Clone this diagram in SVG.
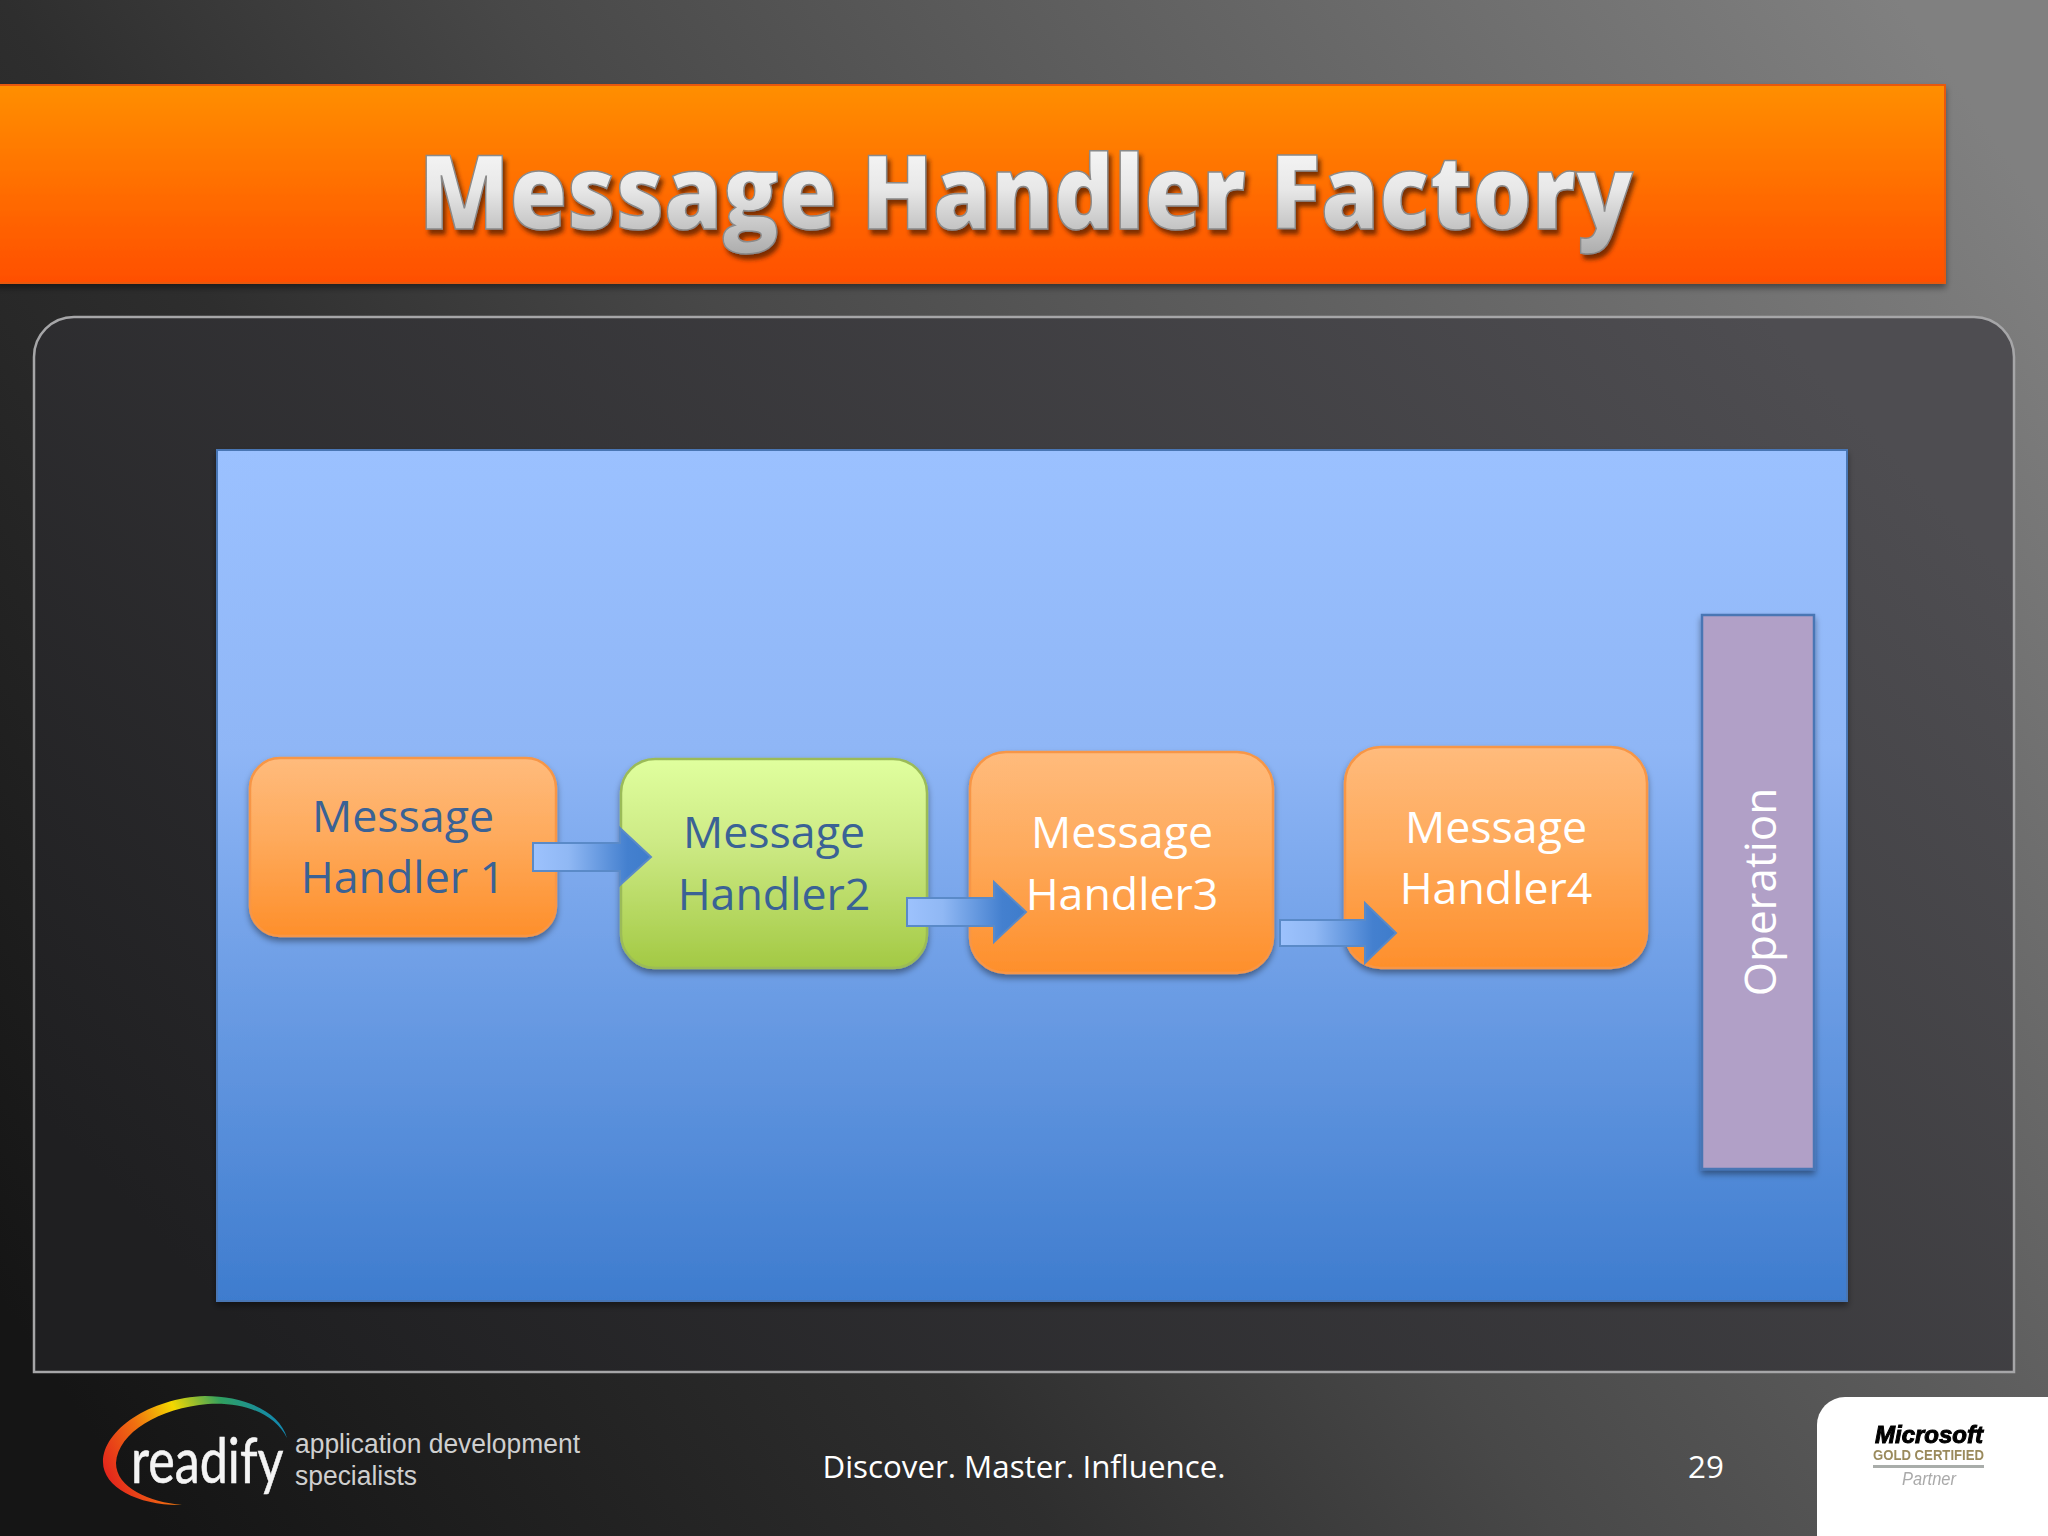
<svg xmlns="http://www.w3.org/2000/svg" width="2048" height="1536" viewBox="0 0 2048 1536">
<defs>
<linearGradient id="bg" gradientUnits="userSpaceOnUse" x1="0" y1="1300" x2="1900" y2="0"><stop offset="0" stop-color="#151515"/><stop offset="0.32" stop-color="#2e2e2e"/><stop offset="0.5" stop-color="#484848"/><stop offset="1" stop-color="#808080"/></linearGradient>
<linearGradient id="panel" x1="0" y1="0.75" x2="1" y2="0.25"><stop offset="0" stop-color="#1f1f21"/><stop offset="1" stop-color="#4e4d51"/></linearGradient>
<linearGradient id="hdr" x1="0" y1="0" x2="0" y2="1"><stop offset="0" stop-color="#ff8f00"/><stop offset="1" stop-color="#ff4f00"/></linearGradient>
<linearGradient id="blue" x1="0" y1="0" x2="0" y2="1"><stop offset="0" stop-color="#9bc1ff"/><stop offset="0.35" stop-color="#8fb6f6"/><stop offset="1" stop-color="#3e7cce"/></linearGradient>
<linearGradient id="org" x1="0" y1="0" x2="0" y2="1"><stop offset="0" stop-color="#ffbb7c"/><stop offset="0.45" stop-color="#feaa5c"/><stop offset="1" stop-color="#fe8f2b"/></linearGradient>
<linearGradient id="grn" x1="0" y1="0" x2="0" y2="1"><stop offset="0" stop-color="#e0ff9e"/><stop offset="0.4" stop-color="#cdea85"/><stop offset="1" stop-color="#a3c944"/></linearGradient>
<linearGradient id="arr" x1="0" y1="0" x2="1" y2="0"><stop offset="0" stop-color="#9dc2fd"/><stop offset="0.3" stop-color="#90b8f4"/><stop offset="0.8" stop-color="#4480cf"/><stop offset="1" stop-color="#3e7ccb"/></linearGradient>
<linearGradient id="ttl" x1="0" y1="0" x2="0" y2="1"><stop offset="0" stop-color="#ffffff"/><stop offset="0.5" stop-color="#e8e8e8"/><stop offset="1" stop-color="#a8a8a8"/></linearGradient>
<linearGradient id="rainbow" gradientUnits="userSpaceOnUse" x1="103" y1="1500" x2="290" y2="1410"><stop offset="0" stop-color="#e01020"/><stop offset="0.3" stop-color="#f07010"/><stop offset="0.5" stop-color="#f4d800"/><stop offset="0.72" stop-color="#30a060"/><stop offset="1" stop-color="#0880c8"/></linearGradient>
<filter id="sh" x="-10%" y="-10%" width="120%" height="125%"><feDropShadow dx="0" dy="4" stdDeviation="3" flood-color="#000" flood-opacity="0.4"/></filter>
<filter id="tsh" x="-5%" y="-10%" width="110%" height="130%"><feDropShadow dx="3" dy="5" stdDeviation="2" flood-color="#5a2000" flood-opacity="0.8"/></filter>
<filter id="soft"><feGaussianBlur stdDeviation="0.6"/></filter>
</defs>
<style>
.t{font-family:"Open Sans","Noto Sans",sans-serif;text-anchor:middle}
.lbl{font-size:44.7px}
.dk{fill:#3a6295}
.lt{fill:#ffffff}
.box{stroke-width:2.5;filter:url(#sh)}
.o{fill:url(#org);stroke:#f79646}
.arrow{fill:url(#arr);stroke:#5a8ac8;stroke-width:2}
.foot{font-size:31.3px;fill:#fff}
.ls{font-family:"Liberation Sans",Arial,sans-serif;fill:#cfcfcf;font-size:27px}
</style>
<rect id="background" width="2048" height="1536" fill="url(#bg)"/>
<g id="header">
<rect x="-4" y="85" width="1949" height="198" fill="url(#hdr)" stroke="#e8590c" stroke-width="2" filter="url(#sh)"/>
<text class="t" x="1026" y="229" font-size="103" font-weight="800" fill="url(#ttl)" stroke="#8a8a8a" stroke-width="1.5" textLength="1214" lengthAdjust="spacingAndGlyphs" filter="url(#tsh)">Message Handler Factory</text>
</g>
<path id="panel-frame" d="M34 1372V357a40 40 0 0 1 40-40H1974a40 40 0 0 1 40 40V1372Z" fill="url(#panel)" stroke="#a6a6a8" stroke-width="2.5"/>
<rect id="container" x="217" y="450" width="1630" height="851" fill="url(#blue)" stroke="#4a76b4" stroke-width="2" filter="url(#sh)"/>
<g id="handler1"><rect class="box o" x="250" y="758" width="306" height="178" rx="30"/>
<text class="t lbl dk" x="403" y="832">Message</text><text class="t lbl dk" x="403" y="893">Handler 1</text></g>
<g id="handler2"><rect class="box" fill="url(#grn)" stroke="#9bbb59" x="621" y="759" width="306" height="209" rx="34"/>
<text class="t lbl dk" x="774" y="848">Message</text><text class="t lbl dk" x="774" y="910">Handler2</text></g>
<g id="handler3"><rect class="box o" x="970" y="752" width="303" height="221" rx="36"/>
<text class="t lbl lt" x="1122" y="848">Message</text><text class="t lbl lt" x="1122" y="910">Handler3</text></g>
<g id="handler4"><rect class="box o" x="1345" y="747" width="302" height="221" rx="36"/>
<text class="t lbl lt" x="1496" y="843">Message</text><text class="t lbl lt" x="1496" y="904">Handler4</text></g>
<g id="operation"><rect class="box" fill="#b1a0c7" stroke="#4a76b4" x="1702" y="615" width="112" height="554"/>
<text class="t lbl lt" style="font-size:44px" transform="translate(1776 892) rotate(-90)">Operation</text></g>
<g id="connectors">
<path class="arrow" d="M533 843H620V828L651 857L620 885V871H533Z"/>
<path class="arrow" d="M907 898H994V882L1026 912L994 942V926H907Z"/>
<path class="arrow" d="M1280 920H1365V903L1396 933L1365 963V946H1280Z"/>
</g>
<g id="readify-logo">
<path d="M287 1438C280 1412 245 1396 205 1396C150 1398 103 1430 103 1462C103 1488 140 1506 182 1505C150 1502 116 1488 116 1463C118 1432 160 1408 208 1404C245 1402 275 1414 287 1438Z" fill="url(#rainbow)"/>
<text transform="translate(131 1483) scale(0.81 1)" font-family="Lato,'Liberation Sans',sans-serif" font-size="62" fill="#f4f4f4" stroke="#f4f4f4" stroke-width="0.6">readify</text>
<text class="ls" x="295" y="1453" textLength="285" lengthAdjust="spacingAndGlyphs">application development</text>
<text class="ls" x="295" y="1485" textLength="122" lengthAdjust="spacingAndGlyphs">specialists</text>
</g>
<text class="t foot" x="1024" y="1478">Discover. Master. Influence.</text>
<text class="t foot" x="1706" y="1478">29</text>
<g id="partner-badge">
<path d="M2048 1397H1845a28 28 0 0 0 -28 28V1536H2048Z" fill="#fff"/>
<g filter="url(#soft)">
<text x="1875" y="1443" font-family="'Liberation Sans',sans-serif" font-weight="700" font-style="italic" font-size="24" fill="#000" stroke="#000" textLength="108" lengthAdjust="spacingAndGlyphs">Microsoft</text>
<text x="1873" y="1460" font-family="'Liberation Sans',sans-serif" font-weight="700" font-size="14" fill="#9a8a5c" textLength="111" lengthAdjust="spacingAndGlyphs">GOLD CERTIFIED</text>
<rect x="1873" y="1465" width="111" height="3" fill="#a9adaa"/>
<text x="1902" y="1485" font-family="'Liberation Sans',sans-serif" font-style="italic" font-size="18" fill="#aaa" textLength="54" lengthAdjust="spacingAndGlyphs">Partner</text>
</g></g>
</svg>
